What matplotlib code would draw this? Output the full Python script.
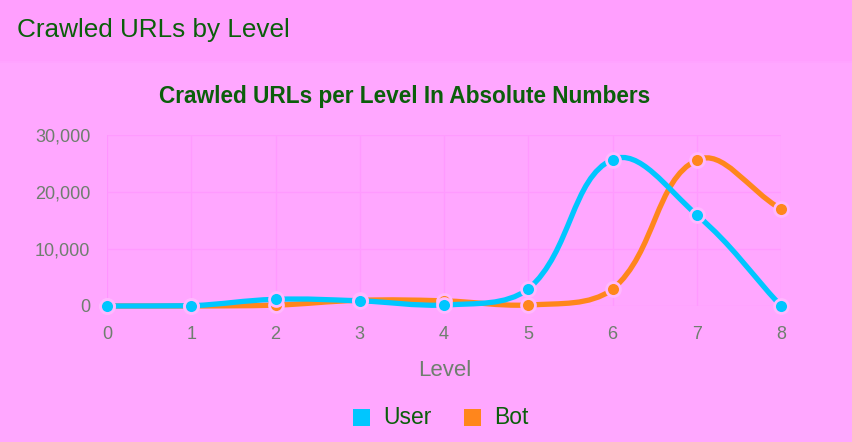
import numpy as np
import matplotlib
matplotlib.use("Agg")
import matplotlib.pyplot as plt
from matplotlib.path import Path
from matplotlib.patches import PathPatch, Rectangle

plt.rcParams['font.family'] = ['Liberation Sans', 'DejaVu Sans']

levels = [0, 1, 2, 3, 4, 5, 6, 7, 8]
user_urls = [0, 50, 1170, 900, 150, 2950, 25700, 16000, 0]
bot_urls = [0, 0, 150, 1000, 900, 150, 2900, 25600, 17000]
y_ticks = [0, 10000, 20000, 30000]

W, H = 852, 442
fig = plt.figure(figsize=(W / 100, H / 100), dpi=100)
fig.patch.set_facecolor('#FFA7FF')

GREEN = '#0B5E0B'
TICK = '#6E7F6E'

# header band
fig.add_artist(Rectangle((0, 1 - 61 / H), 1, 61 / H, transform=fig.transFigure,
                         facecolor='#FF9FFE', edgecolor='none', zorder=0))
fig.add_artist(Rectangle((0, 1 - 63 / H), 1, 2 / H, transform=fig.transFigure,
                         facecolor='#FFA3FF', edgecolor='none', zorder=0))
fig.text(17 / W, 1 - 30 / H, 'Crawled URLs by Level', fontsize=18.8,
         color=GREEN, va='center', ha='left')

x0, x1, yb, yt = 107, 781, 306, 135
ax = fig.add_axes([x0 / W, 1 - yb / H, (x1 - x0) / W, (yb - yt) / H])
ax.set_facecolor('none')
ax.set_xlim(0, 8)
ax.set_ylim(0, 30000)
for s in ax.spines.values():
    s.set_visible(False)
ax.set_xticks(levels)
ax.set_yticks(y_ticks)
ax.set_yticklabels([f'{v:,}' for v in y_ticks])
ax.tick_params(length=0, labelsize=13, labelcolor=TICK)
ax.tick_params(axis='y', pad=12)
ax.tick_params(axis='x', pad=14.5)
ax.grid(True, color='#FF9AFF', linewidth=1)
ax.axvline(0, color='#FF94FF', linewidth=1.2, zorder=1)
ax.set_axisbelow(True)
fig.text(445 / W, 1 - 371 / H, 'Level', fontsize=16, color=TICK,
         ha='center', va='center')
fig.text(405 / W, 1 - 96 / H, 'Crawled URLs per Level In Absolute Numbers',
         fontsize=16.3, fontweight='bold', color=GREEN, ha='center', va='center')

sx = (x1 - x0) / 8.0
sy = (yb - yt) / 30000.0


def bezier_path(xs, ys, tension=0.4):
    px = np.array(xs, float) * sx
    py = np.array(ys, float) * sy
    n = len(px)
    cps = []
    for i in range(n):
        pi = max(i - 1, 0)
        ni = min(i + 1, n - 1)
        d01 = np.hypot(px[i] - px[pi], py[i] - py[pi])
        d12 = np.hypot(px[ni] - px[i], py[ni] - py[i])
        tot = d01 + d12
        s01 = d01 / tot if tot else 0
        s12 = d12 / tot if tot else 0
        fa, fb = tension * s01, tension * s12
        dx, dy = px[ni] - px[pi], py[ni] - py[pi]
        prev_cp = (px[i] - fa * dx, py[i] - fa * dy)
        next_cp = (px[i] + fb * dx, py[i] + fb * dy)
        cps.append((prev_cp, next_cp))
    verts = [(px[0], py[0])]
    codes = [Path.MOVETO]
    for i in range(1, n):
        c1 = cps[i - 1][1]
        c2 = cps[i][0]
        verts += [c1, c2, (px[i], py[i])]
        codes += [Path.CURVE4] * 3
    verts = [(vx / sx, min(max(vy, 0), 30000 * sy) / sy) for vx, vy in verts]
    return Path(verts, codes)


series = [(bot_urls, '#FF861C', 'Bot'), (user_urls, '#00C6FF', 'User')]
for vals, col, name in series:
    ax.add_patch(PathPatch(bezier_path(levels, vals), facecolor='none',
                           edgecolor=col, linewidth=3.8, capstyle='round',
                           zorder=3, clip_on=False))
for vals, col, name in series:
    ax.plot(levels, vals, linestyle='none', marker='o', markersize=10,
            markerfacecolor=col, markeredgecolor='#FFB8FF', markeredgewidth=2,
            zorder=4, clip_on=False)

# legend
for lx, col, label in [(353, '#00C6FF', 'User'), (464, '#FF861C', 'Bot')]:
    fig.add_artist(Rectangle((lx / W, 1 - 426 / H), 17 / W, 17 / H,
                             transform=fig.transFigure, facecolor=col,
                             edgecolor='none'))
    fig.text((lx + 30) / W, 1 - 418 / H, label, fontsize=16.5, color=GREEN,
             va='center', ha='left')

fig.savefig('out.png', dpi=100, facecolor=fig.get_facecolor())
